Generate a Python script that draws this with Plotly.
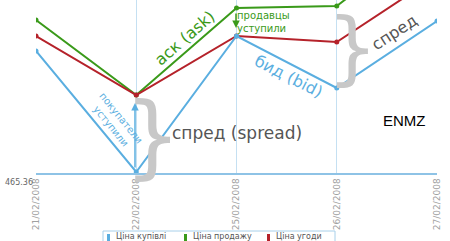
import plotly.graph_objects as go

dates = ["21/02/2008", "22/02/2008", "25/02/2008", "26/02/2008", "27/02/2008"]
bid = [477.56, 465.46, 479.06, 473.86, 480.56]     # Ціна купівлі
ask = [480.66, 473.16, 481.86, 482.06, 489.66]     # Ціна продажу
trade = [479.06, 473.16, 479.06, 478.46, 485.06]   # Ціна угоди
names = ["Ціна купівлі", "Ціна продажу", "Ціна угоди"]
colors = ["#5aaee0", "#3a9a1a", "#b5222a"]
y_min_label = "465.36"

W, H = 450, 241
L, R, T, B = 36, 13, 0, 68
PW, PH = W - L - R, H - T - B


def px(x):
    return (x - L) / PW


def py(y):
    return (H - B - y) / PH


fig = go.Figure()
for vals, name, col in [(ask, names[1], colors[1]), (trade, names[2], colors[2]), (bid, names[0], colors[0])]:
    fig.add_trace(go.Scatter(x=dates, y=vals, name=name, mode="lines+markers",
                             line=dict(color=col, width=2), marker=dict(size=5, color=col),
                             showlegend=False))

ann = []
font = "DejaVu Sans"
# braces
ann.append(dict(x=px(152), y=py(135), text="}", font=dict(size=90, color="#c8c8c8", family=font)))
ann.append(dict(x=px(352), y=py(47), text="}", font=dict(size=80, color="#c8c8c8", family=font)))
# labels
ann.append(dict(x=px(184), y=py(38), text="аск (ask)", textangle=-41,
                font=dict(size=16, color=colors[1], family=font)))
ann.append(dict(x=px(289), y=py(76), text="бид (bid)", textangle=27,
                font=dict(size=16, color=colors[0], family=font)))
ann.append(dict(x=px(394), y=py(32), text="спред", textangle=-33,
                font=dict(size=16, color="#555555", family=font)))
ann.append(dict(x=px(237), y=py(133), text="спред (spread)",
                font=dict(size=17, color="#555555", family=font)))
ann.append(dict(x=px(263), y=py(22), text="продавцы<br>уступили", align="left",
                font=dict(size=10, color=colors[1], family=font)))
ann.append(dict(x=px(116), y=py(122), text="покупатели<br>уступили", textangle=51,
                font=dict(size=10, color=colors[0], family=font)))
ann.append(dict(x=px(404), y=py(121), text="ENMZ",
                font=dict(size=15, color="#000000", family="Liberation Sans")))
ann.append(dict(x=px(19), y=py(182), text=y_min_label,
                font=dict(size=8, color="#666666", family=font)))
# arrows
ann.append(dict(x=px(135), y=py(103), ax=0, ay=66, text="", showarrow=True,
                arrowhead=2, arrowsize=1, arrowwidth=1.5, arrowcolor=colors[0]))
ann.append(dict(x=px(236), y=py(28), ax=0, ay=-16, text="", showarrow=True,
                arrowhead=2, arrowsize=1, arrowwidth=1.5, arrowcolor=colors[1]))

# legend (manual)
shapes = [dict(type="rect", xref="paper", yref="paper", x0=px(103), x1=px(335), y0=py(245), y1=py(231),
               line=dict(color="#a8d0ea", width=1), fillcolor="white")]
leg_x = [107, 184, 267]
for i, (nm, col) in enumerate(zip(names, colors)):
    shapes.append(dict(type="rect", xref="paper", yref="paper", x0=px(leg_x[i]), x1=px(leg_x[i] + 3),
                       y0=py(242), y1=py(234), line=dict(width=0), fillcolor=col))
    ann.append(dict(x=px(leg_x[i] + 7), y=py(236.5), xanchor="left", text=nm,
                    font=dict(size=8, color="#555555", family=font)))

for a in ann:
    a.setdefault("xref", "paper")
    a.setdefault("yref", "paper")
    a.setdefault("showarrow", False)
    a.setdefault("xanchor", "center")
    a.setdefault("yanchor", "middle")

fig.update_layout(
    width=W, height=H, margin=dict(l=L, r=R, t=T, b=B),
    paper_bgcolor="white", plot_bgcolor="white",
    annotations=ann, shapes=shapes, showlegend=False,
    xaxis=dict(type="category", range=[0, 4], showgrid=True, gridcolor="#c5e0f2", gridwidth=1,
               tickangle=-90, tickfont=dict(size=9, color="#a0a0a0", family=font),
               showline=True, linecolor="#8ec3e6", linewidth=1.5, ticks="", zeroline=False),
    yaxis=dict(range=[465.36, 465.36 + 17.3], showgrid=False, showticklabels=False,
               showline=False, zeroline=False, ticks=""),
)
fig.write_html("out.html")
